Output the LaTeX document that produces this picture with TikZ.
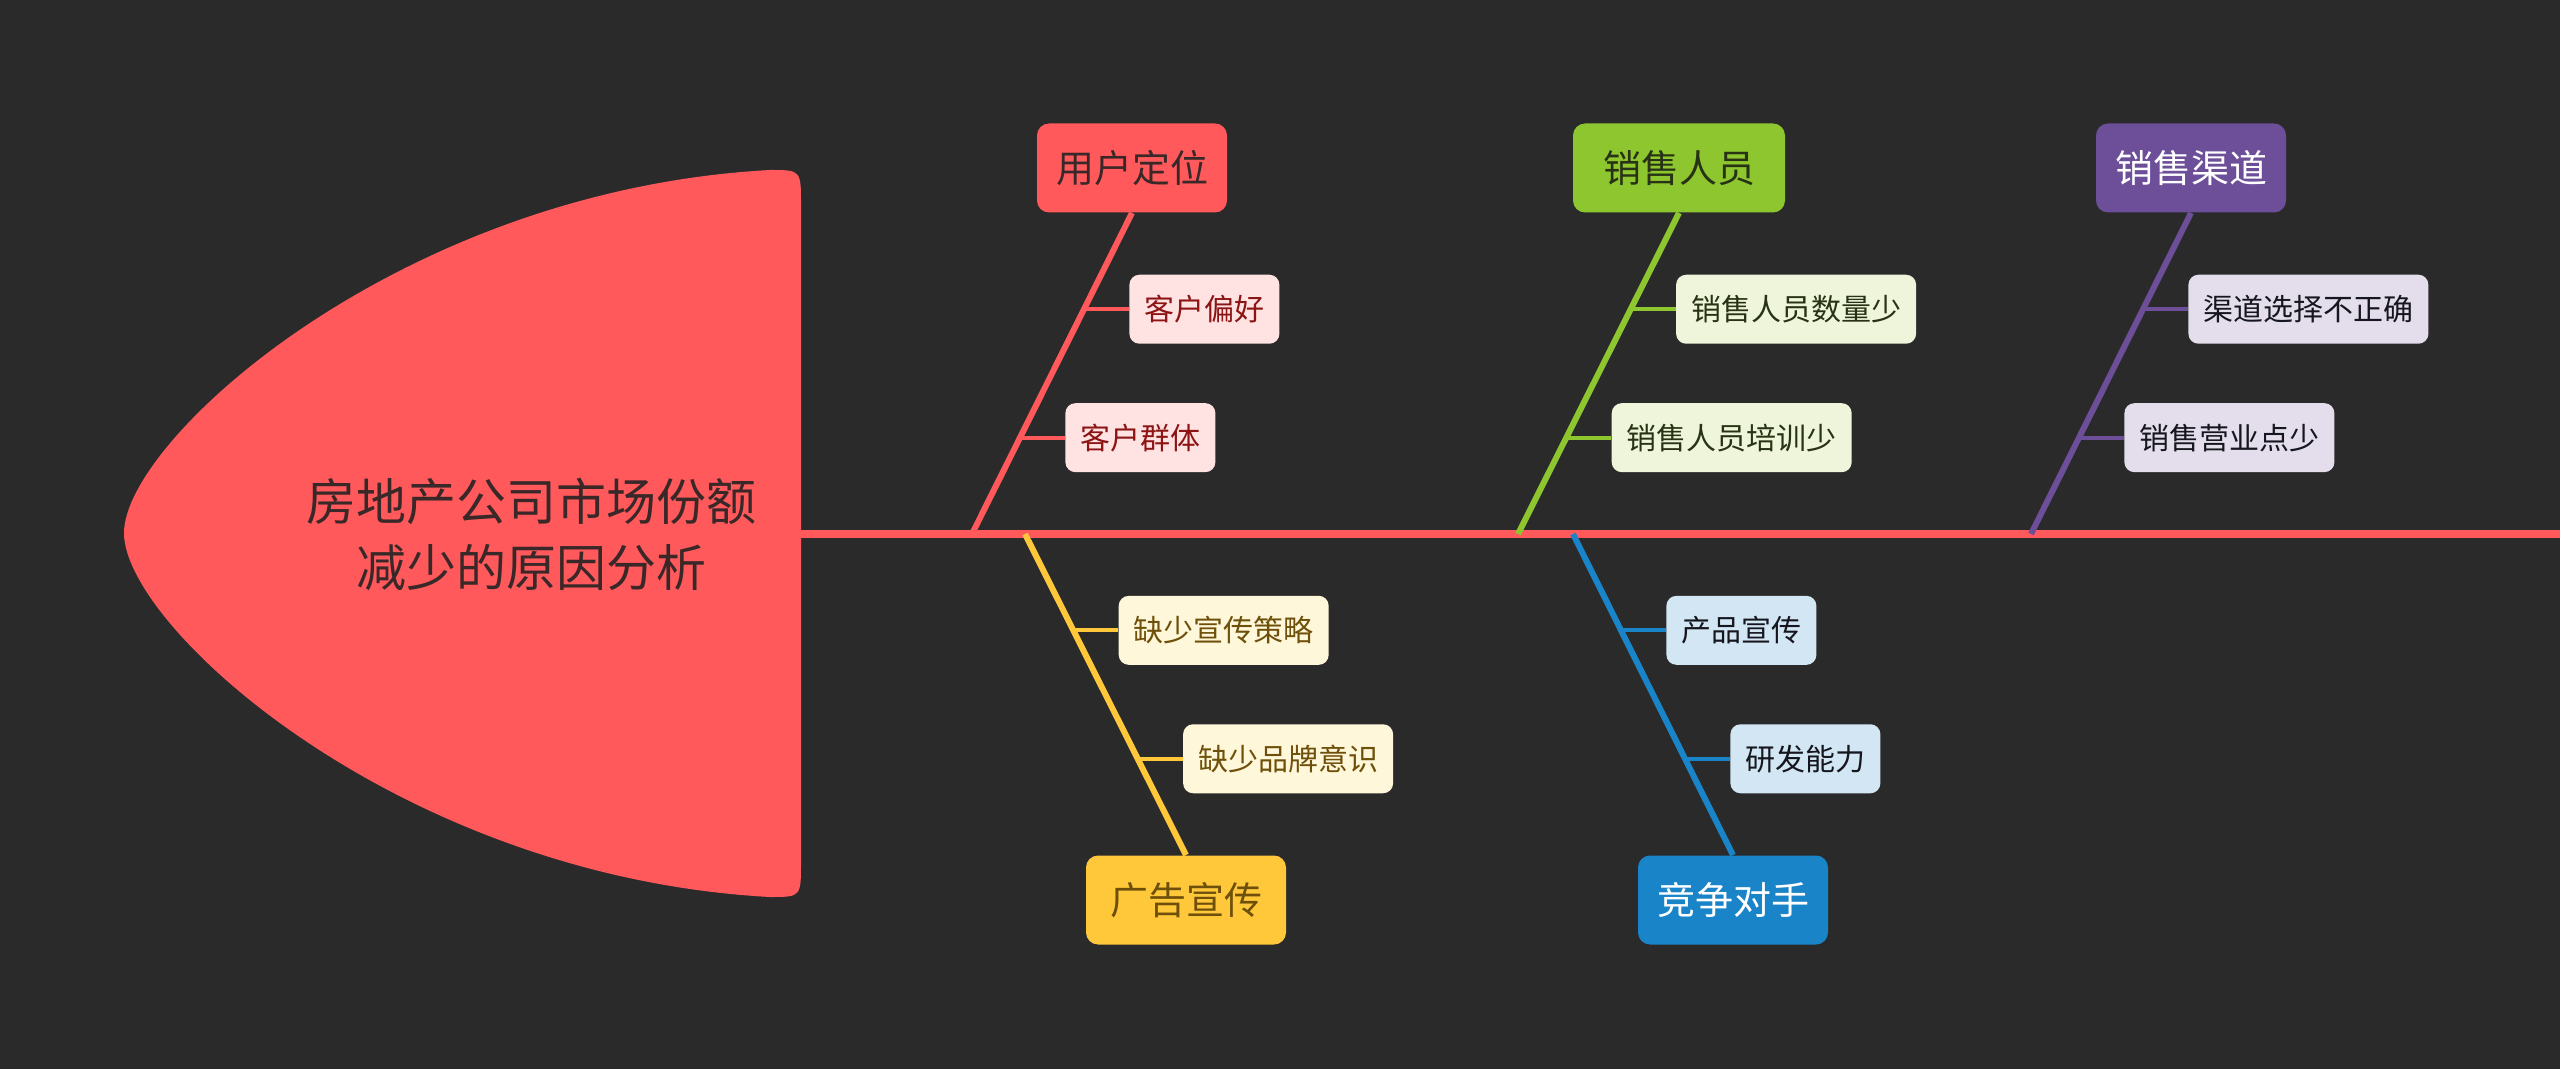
\documentclass[tikz,border=0pt]{standalone}
\usepackage{fontspec}
\setmainfont{Noto Sans CJK SC}
\usetikzlibrary{positioning,calc}
\definecolor{bgc}    {RGB}{ 42, 42, 42}
\definecolor{headr}  {RGB}{255, 89, 92}
\definecolor{grn}    {RGB}{141,198, 46}
\definecolor{ppl}    {RGB}{108, 78,153}
\definecolor{ylw}    {RGB}{255,200, 58}
\definecolor{blu}    {RGB}{ 26,132,200}
\definecolor{redlt}  {RGB}{255,226,226}
\definecolor{grnlt}  {RGB}{238,245,218}
\definecolor{ppllt}  {RGB}{228,222,236}
\definecolor{ylwlt}  {RGB}{255,247,218}
\definecolor{blult}  {RGB}{210,230,244}
\definecolor{ttltx}  {RGB}{ 58, 40, 40}
\definecolor{redtx}  {RGB}{140, 20, 20}
\definecolor{grntx}  {RGB}{ 40, 50, 20}
\definecolor{ylwtx}  {RGB}{110, 80, 10}
\definecolor{drktx}  {RGB}{ 22, 22, 30}
\tikzset{
  cause/.style ={rectangle,rounded corners=6pt,
                 minimum width=95pt,minimum height=44.5pt,
                 inner xsep=9pt,font=\fontsize{19}{22}\selectfont},
  sub/.style   ={rectangle,rounded corners=5pt,minimum height=34.5pt,
                 inner xsep=7.5pt,font=\fontsize{15}{17}\selectfont},
  bone/.style  ={line width=3pt},
  twig/.style  ={line width=2pt},
  spine/.style ={line width=3.5pt,draw=headr},
}

\begin{document}
\begin{tikzpicture}[x=0.5pt,y=-0.5pt]
  % canvas
  \fill[bgc] (0,0) rectangle (2560,1069);
  \useasboundingbox (0,0) rectangle (2560,1069);
  % head
  \fill[headr] (124,533) .. controls (124,440) and (400,190) .. (770,170)
    .. controls (801,170) .. (801,205) -- (801,862)
    .. controls (801,897) .. (770,897)
    .. controls (400,877) and (124,627) .. cycle;
  \node[font=\fontsize{25}{33}\selectfont,align=center,text=ttltx]
                               (ttl) at (531,534) {房地产公司市场份额\\减少的原因分析};
  % spine
  \coordinate (neck) at (801,534);
  \coordinate (tail) at (2560,534);
  \coordinate (f1) at (972,534);
  \coordinate (f2) at (1518,534);
  \coordinate (f3) at (2031,534);
  \coordinate (g1) at (1025,534);
  \coordinate (g2) at (1573,534);
  \draw[spine] (neck) -- (tail);
  % causes
  \node[cause,fill=headr,text=ttltx]                  (usr) at (1132,168) {用户定位};
  \node[cause,fill=grn,text=grntx,minimum width=106pt] (sal) at (1679,168) {销售人员};
  \node[cause,fill=ppl,text=white]                    (chn) at (2191,168) {销售渠道};
  \node[cause,fill=ylw,text=ylwtx,minimum width=100pt] (adv) at (1186,900) {广告宣传};
  \node[cause,fill=blu,text=white]                    (cmp) at (1733,900) {竞争对手};
  % bones
  \draw[bone,draw=headr] (usr.south) -- (f1);
  \draw[bone,draw=grn]   (sal.south) -- (f2);
  \draw[bone,draw=ppl]   (chn.south) -- (f3);
  \draw[bone,draw=ylw]   (g1) -- (adv.north);
  \draw[bone,draw=blu]   (g2) -- (cmp.north);
  % twig points
  \coordinate (u1) at ($(usr.south)!0.3!(f1)$);
  \coordinate (u2) at ($(usr.south)!0.7!(f1)$);
  \coordinate (s1) at ($(sal.south)!0.3!(f2)$);
  \coordinate (s2) at ($(sal.south)!0.7!(f2)$);
  \coordinate (c1) at ($(chn.south)!0.3!(f3)$);
  \coordinate (c2) at ($(chn.south)!0.7!(f3)$);
  \coordinate (a1) at ($(g1)!0.3!(adv.north)$);
  \coordinate (a2) at ($(g1)!0.7!(adv.north)$);
  \coordinate (m1) at ($(g2)!0.3!(cmp.north)$);
  \coordinate (m2) at ($(g2)!0.7!(cmp.north)$);
  % sub causes
  \node[sub,fill=redlt,text=redtx, right=22.5pt of u1] (u1s) {客户偏好};
  \node[sub,fill=redlt,text=redtx, right=22.5pt of u2] (u2s) {客户群体};
  \node[sub,fill=grnlt,text=grntx, right=22.5pt of s1] (s1s) {销售人员数量少};
  \node[sub,fill=grnlt,text=grntx, right=22.5pt of s2] (s2s) {销售人员培训少};
  \node[sub,fill=ppllt,text=drktx, right=22.5pt of c1] (c1s) {渠道选择不正确};
  \node[sub,fill=ppllt,text=drktx, right=22.5pt of c2] (c2s) {销售营业点少};
  \node[sub,fill=ylwlt,text=ylwtx, right=22.5pt of a1] (a1s) {缺少宣传策略};
  \node[sub,fill=ylwlt,text=ylwtx, right=22.5pt of a2] (a2s) {缺少品牌意识};
  \node[sub,fill=blult,text=drktx, right=22.5pt of m1] (m1s) {产品宣传};
  \node[sub,fill=blult,text=drktx, right=22.5pt of m2] (m2s) {研发能力};
  % twigs
  \draw[twig,draw=headr] (u1) -- (u1s);
  \draw[twig,draw=headr] (u2) -- (u2s);
  \draw[twig,draw=grn]   (s1) -- (s1s);
  \draw[twig,draw=grn]   (s2) -- (s2s);
  \draw[twig,draw=ppl]   (c1) -- (c1s);
  \draw[twig,draw=ppl]   (c2) -- (c2s);
  \draw[twig,draw=ylw]   (a1) -- (a1s);
  \draw[twig,draw=ylw]   (a2) -- (a2s);
  \draw[twig,draw=blu]   (m1) -- (m1s);
  \draw[twig,draw=blu]   (m2) -- (m2s);
\end{tikzpicture}
\end{document}
